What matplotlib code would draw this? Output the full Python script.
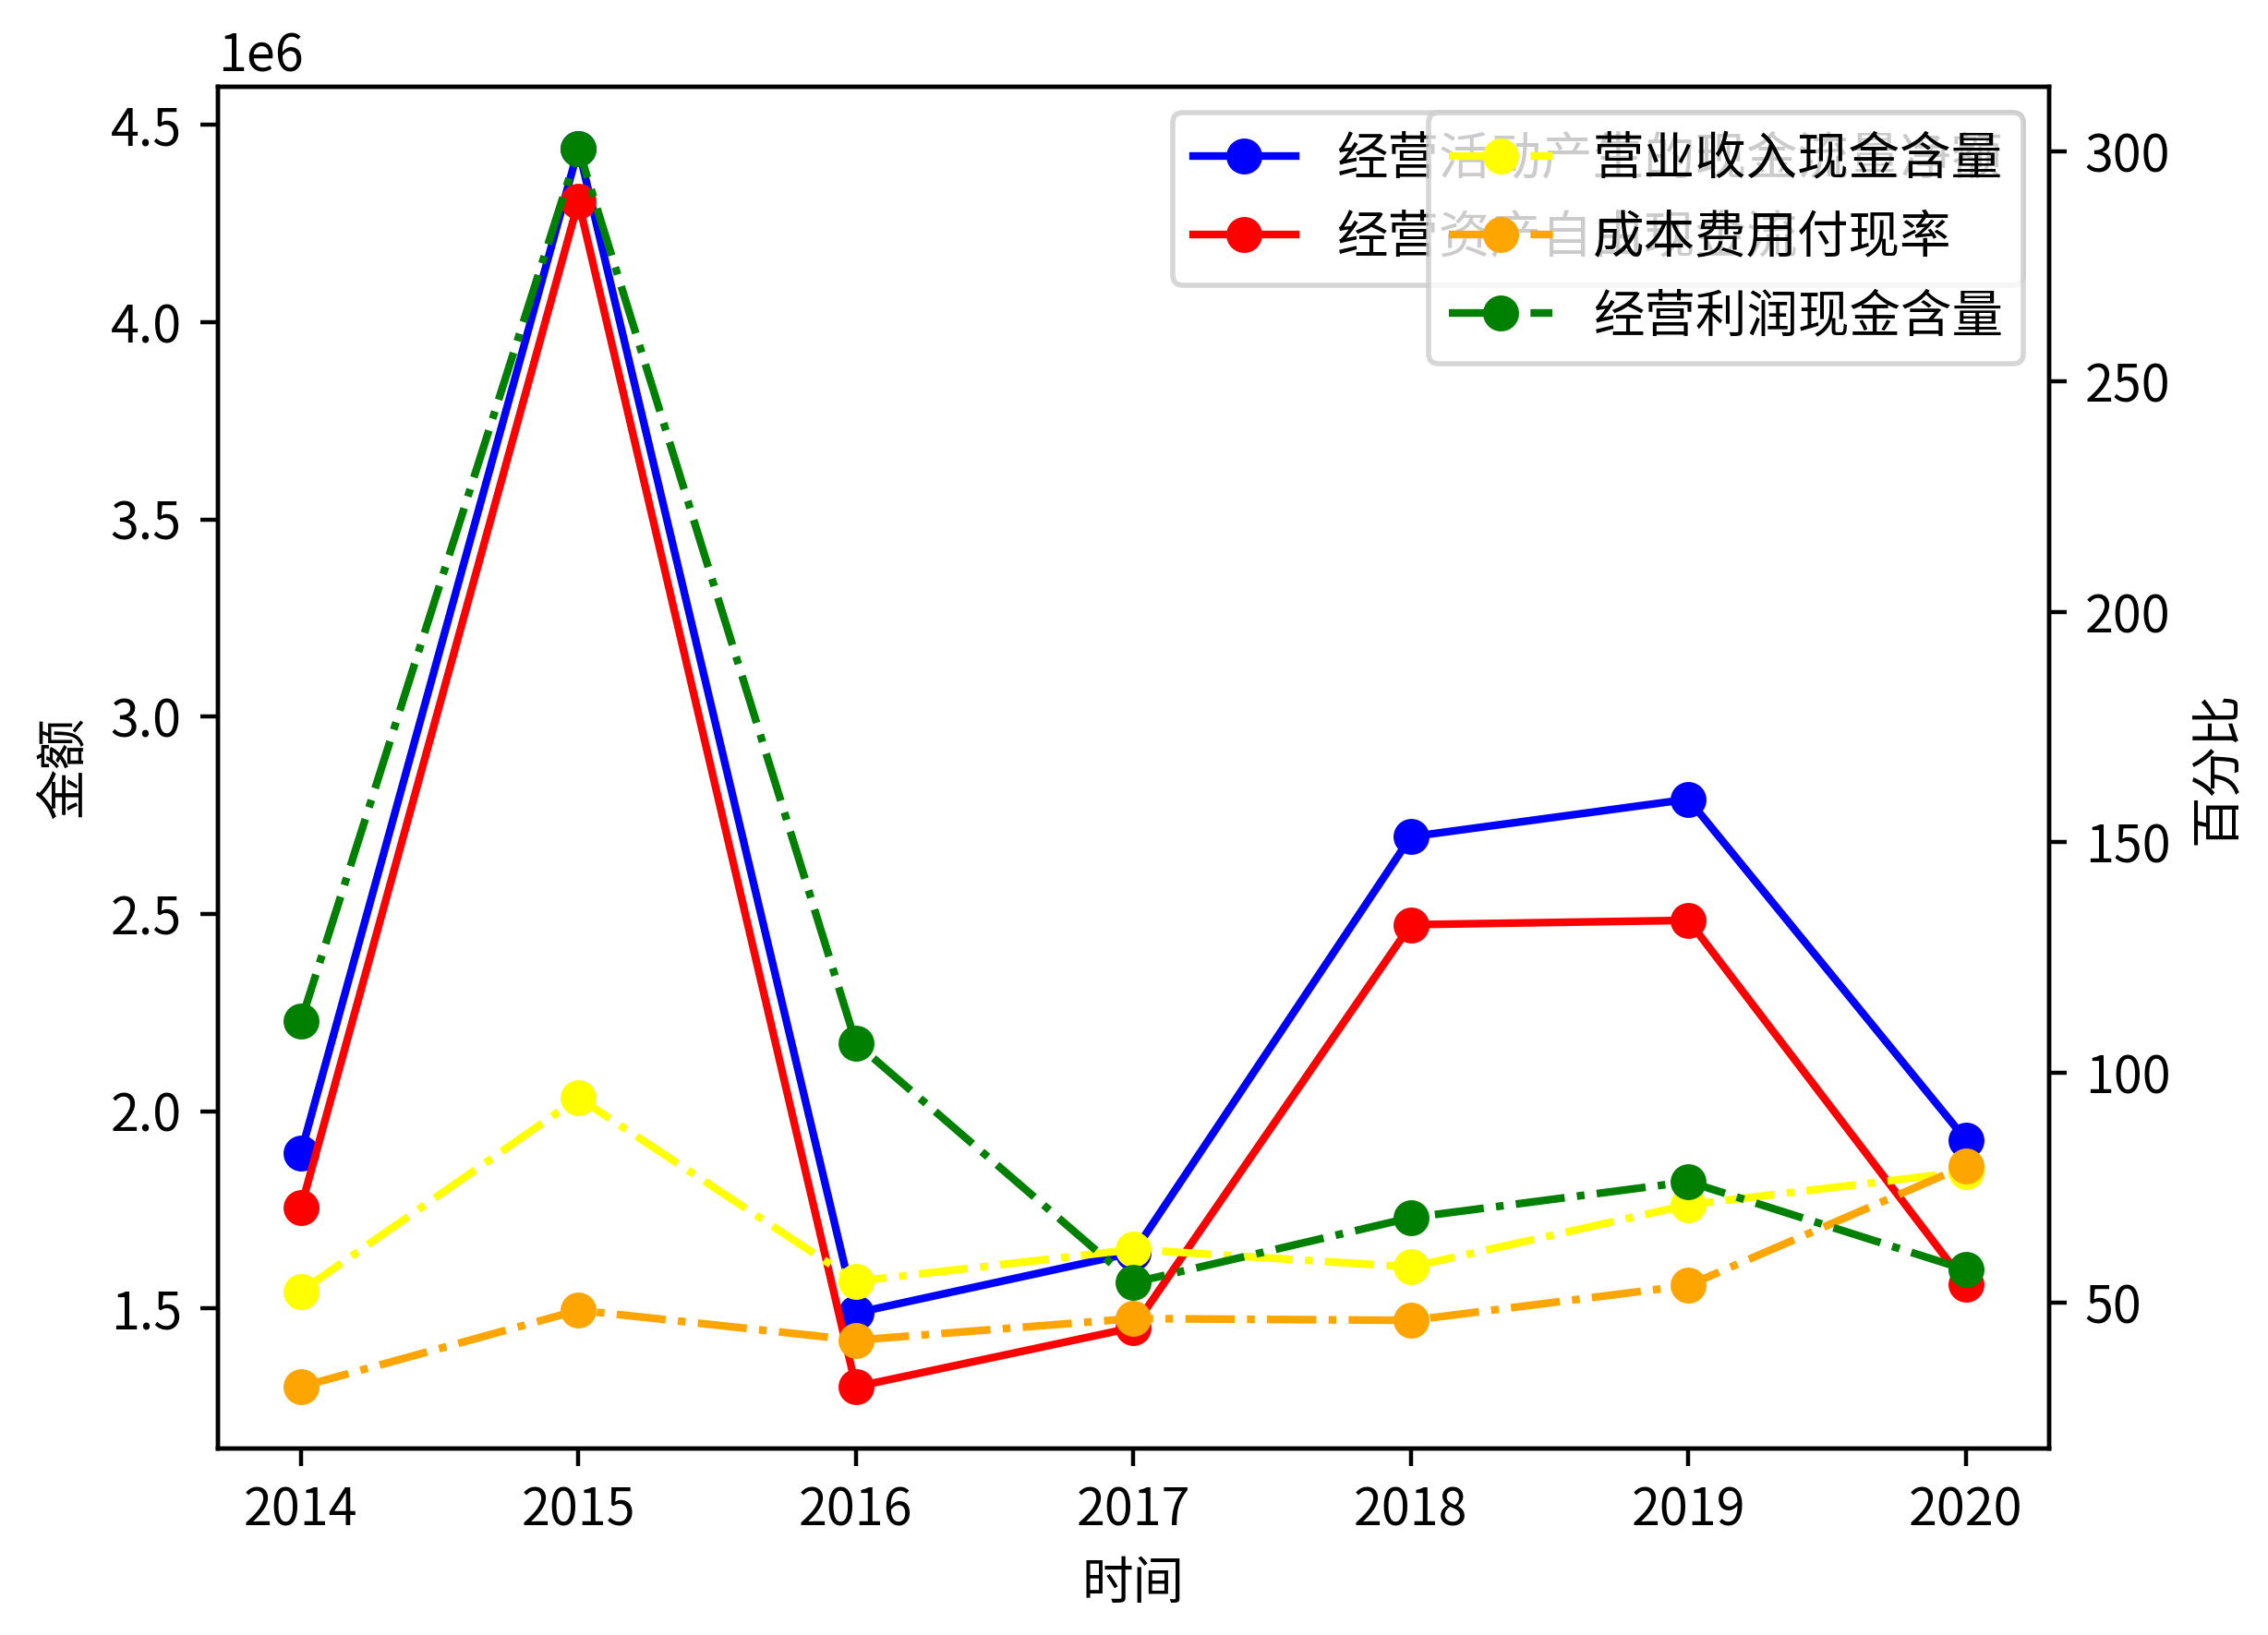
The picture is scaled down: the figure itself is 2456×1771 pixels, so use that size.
import matplotlib
matplotlib.use("Agg")
import matplotlib.pyplot as plt

plt.rcParams['font.family'] = ['Noto Sans CJK SC', 'DejaVu Sans']
plt.rcParams['axes.unicode_minus'] = False

# data
years = [2014, 2015, 2016, 2017, 2018, 2019, 2020]
op_cash_flow = [1.895e6, 4.44e6, 1.489e6, 1.642e6, 2.696e6, 2.791e6, 1.928e6]
free_cash_flow = [1.756e6, 4.306e6, 1.302e6, 1.452e6, 2.473e6, 2.484e6, 1.562e6]
revenue_cash = [52.5, 94.5, 54.7, 61.6, 57.8, 71.3, 78.5]
cost_cash_rate = [31.8, 48.4, 41.9, 46.6, 46.2, 53.8, 79.8]
profit_cash = [111.1, 300.6, 106.4, 54.4, 68.5, 76.3, 57.2]

fig = plt.figure(figsize=(6.14, 4.4275), dpi=400)
ax1 = fig.add_axes([0.096, 0.114, 0.8075, 0.833])

ax1.plot(years, op_cash_flow, '-o', color='blue', label='经营活动产生的现金流量净额')
ax1.plot(years, free_cash_flow, '-o', color='red', label='经营资产自由现金流')
ax1.set_xlabel('时间')
ax1.set_ylabel('金额')
ax1.legend(loc='upper right')

ax2 = ax1.twinx()
ax2.plot(years, revenue_cash, '-.o', color='yellow', label='营业收入现金含量')
ax2.plot(years, cost_cash_rate, '-.o', color='orange', label='成本费用付现率')
ax2.plot(years, profit_cash, '-.o', color='green', label='经营利润现金含量')
ax2.set_ylabel('百分比')
ax2.legend(loc='upper right')

fig.savefig('out.png', dpi=400)
